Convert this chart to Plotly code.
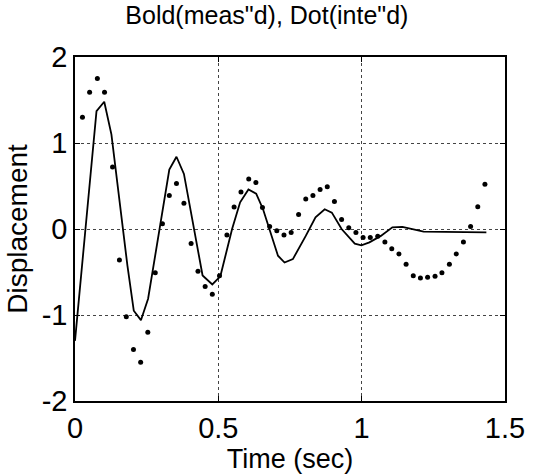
import plotly.graph_objects as go

# Measured displacement (solid line)
meas_t = [0.0, 0.075, 0.102, 0.127, 0.183, 0.205, 0.230, 0.255, 0.329, 0.354,
          0.380, 0.445, 0.479, 0.507, 0.548, 0.576, 0.605, 0.632, 0.656, 0.708,
          0.731, 0.760, 0.805, 0.839, 0.871, 0.896, 0.930, 0.976, 0.999, 1.027,
          1.067, 1.107, 1.142, 1.180, 1.216, 1.435]
meas_d = [-1.30, 1.37, 1.48, 1.10, -0.43, -0.95, -1.06, -0.81, 0.69, 0.84,
          0.64, -0.54, -0.645, -0.55, 0.00, 0.31, 0.46, 0.41, 0.23, -0.31,
          -0.39, -0.35, -0.08, 0.135, 0.23, 0.19, 0.00, -0.17, -0.19, -0.155,
          -0.08, 0.02, 0.025, 0.00, -0.03, -0.04]

# Integrated displacement (dots)
inte_t = [0.026, 0.051, 0.078, 0.103, 0.131, 0.155, 0.179, 0.204, 0.229, 0.254,
          0.280, 0.305, 0.329, 0.354, 0.380, 0.405, 0.429, 0.454, 0.479, 0.504,
          0.530, 0.555, 0.579, 0.606, 0.631, 0.654, 0.679, 0.704, 0.729, 0.754,
          0.780, 0.805, 0.830, 0.855, 0.880, 0.905, 0.930, 0.955, 0.980, 1.005,
          1.030, 1.056, 1.081, 1.105, 1.130, 1.155, 1.180, 1.205, 1.230, 1.256,
          1.280, 1.306, 1.330, 1.355, 1.380, 1.405, 1.430]
inte_d = [1.30, 1.59, 1.75, 1.59, 0.72, -0.36, -1.02, -1.40, -1.55, -1.20,
          -0.51, 0.06, 0.39, 0.53, 0.30, -0.17, -0.49, -0.67, -0.76, -0.545,
          -0.07, 0.255, 0.43, 0.58, 0.54, 0.25, 0.03, -0.02, -0.07, -0.04,
          0.17, 0.35, 0.39, 0.46, 0.49, 0.32, 0.11, 0.015, -0.04, -0.10,
          -0.10, -0.085, -0.15, -0.23, -0.29, -0.41, -0.545, -0.57, -0.56, -0.55,
          -0.51, -0.41, -0.29, -0.15, 0.03, 0.26, 0.52]

x_ticks = [0, 0.5, 1, 1.5]
x_ticktext = ["0", "0.5", "1", "1.5"]
y_ticks = [-2, -1, 0, 1, 2]
y_ticktext = ["-2", "-1", "0", "1", "2"]

FONT = "Liberation Sans, Arial, sans-serif"

fig = go.Figure()
fig.add_trace(go.Scatter(x=meas_t, y=meas_d, mode="lines",
                         line=dict(color="black", width=1.8),
                         showlegend=False, hoverinfo="skip"))
fig.add_trace(go.Scatter(x=inte_t, y=inte_d, mode="markers",
                         marker=dict(color="black", size=5),
                         showlegend=False, hoverinfo="skip"))

axis_common = dict(
    showline=True, linecolor="black", linewidth=1.5, mirror="ticks",
    ticks="inside", ticklen=5, tickcolor="black", tickwidth=1,
    showgrid=True, gridcolor="#444", griddash="dot", gridwidth=1,
    zeroline=False, tickfont=dict(family=FONT, size=29, color="black"),
)

fig.update_layout(
    width=537, height=474,
    margin=dict(l=75, r=23, t=57, b=72),
    paper_bgcolor="white", plot_bgcolor="white",
    title=dict(text="Bold(meas\"d), Dot(inte\"d)", x=0.497, xanchor="center",
               y=1 - 15 / 474, yanchor="middle",
               font=dict(family=FONT, size=25, color="black")),
    xaxis=dict(range=[0, 1.5], tickvals=x_ticks, ticktext=x_ticktext,
               title=dict(text="Time (sec)", standoff=0,
                          font=dict(family=FONT, size=27, color="black")),
               **axis_common),
    yaxis=dict(range=[-2, 2], tickvals=y_ticks, ticktext=y_ticktext,
               title=dict(text="Displacement", standoff=6,
                          font=dict(family=FONT, size=28, color="black")),
               **axis_common),
)

fig.write_html("out.html")
